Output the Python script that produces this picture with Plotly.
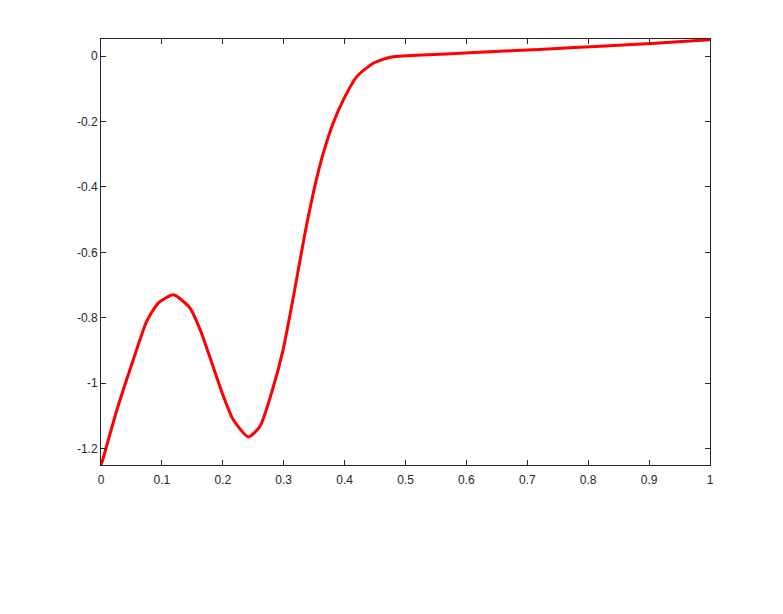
import plotly.graph_objects as go

x_vals = [0.0, 0.0038, 0.023, 0.0366, 0.053, 0.075, 0.094, 0.119, 0.146, 0.163, 0.184,
          0.201, 0.217, 0.242, 0.261, 0.280, 0.299, 0.3186, 0.335, 0.351, 0.365,
          0.381, 0.398, 0.420, 0.447, 0.475, 0.529, 0.584, 0.639, 0.72, 0.82, 0.91, 1.0]
y_vals = [-1.25, -1.228, -1.101, -1.020, -0.928, -0.811, -0.755, -0.730, -0.770, -0.837, -0.949,
          -1.040, -1.111, -1.164, -1.132, -1.030, -0.898, -0.709, -0.541, -0.399, -0.297,
          -0.206, -0.134, -0.063, -0.022, -0.004, 0.003, 0.008, 0.013, 0.020, 0.030, 0.039, 0.05]

x_ticks = [0, 0.1, 0.2, 0.3, 0.4, 0.5, 0.6, 0.7, 0.8, 0.9, 1]
x_tick_text = ["0", "0.1", "0.2", "0.3", "0.4", "0.5", "0.6", "0.7", "0.8", "0.9", "1"]
y_ticks = [-1.2, -1, -0.8, -0.6, -0.4, -0.2, 0]
y_tick_text = ["-1.2", "-1", "-0.8", "-0.6", "-0.4", "-0.2", "0"]

fig = go.Figure()
fig.add_trace(go.Scatter(x=x_vals, y=y_vals, mode="lines",
                         line=dict(color="#ff0000", width=3, shape="spline", smoothing=0.6),
                         showlegend=False, hoverinfo="skip"))

axis_common = dict(showgrid=False, zeroline=False, showline=True, linecolor="#262626",
                   linewidth=1, mirror="ticks", ticks="inside", ticklen=5,
                   tickcolor="#262626", tickwidth=1,
                   tickfont=dict(family="Liberation Sans, Arial, sans-serif", size=12,
                                 color="#262626"))

fig.update_layout(
    width=783, height=614,
    margin=dict(l=93, r=81, t=31, b=157),
    paper_bgcolor="white", plot_bgcolor="white",
    xaxis=dict(range=[0, 1], tickvals=x_ticks, ticktext=x_tick_text,
               ticklabelstandoff=4, **axis_common),
    yaxis=dict(range=[-1.25, 0.052], tickvals=y_ticks, ticktext=y_tick_text, **axis_common),
)

fig.write_html("out.html")
